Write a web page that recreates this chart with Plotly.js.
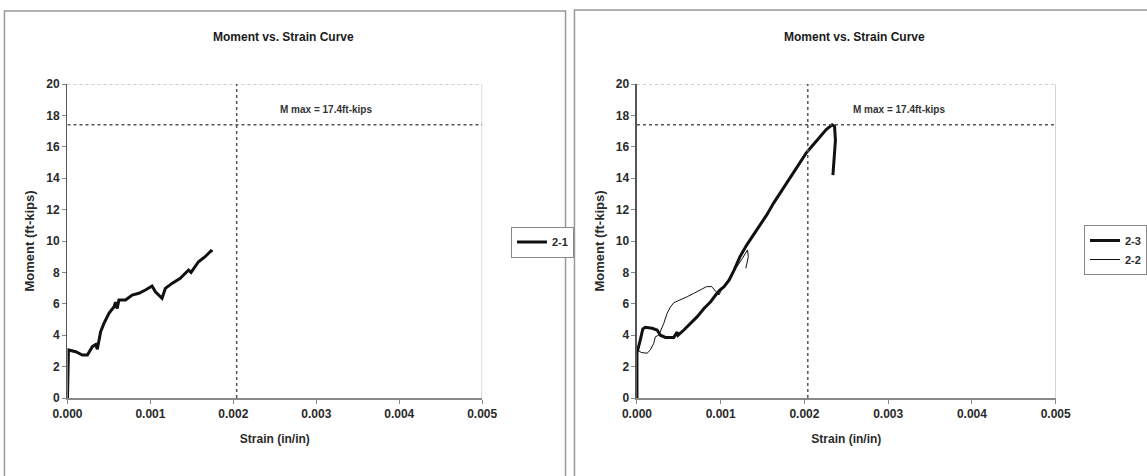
<!DOCTYPE html>
<html>
<head>
<meta charset="utf-8">
<script src="https://cdn.plot.ly/plotly-3.0.1.min.js"></script>
<style>html,body{margin:0;padding:0;background:#fff;}#chart{width:1147px;height:476px;}</style>
</head>
<body>
<div id="chart"></div>
<script>
// ---- Data ----
const chartTitle = "Moment vs. Strain Curve";
const xTitle = "Strain (in/in)";
const yTitle = "Moment (ft-kips)";
const xTickVals = [0, 0.001, 0.002, 0.003, 0.004, 0.005];
const yTickVals = [0, 2, 4, 6, 8, 10, 12, 14, 16, 18, 20];
const mMax = 17.4;
const mMaxStrain = 0.00204;
const mMaxLabel = "M max = 17.4ft-kips";

// Left panel, specimen 2-1
const strain21 = [0, 0.000012, 0.0001, 0.00018, 0.00024, 0.0003, 0.00034, 0.00036, 0.0004, 0.00044, 0.0005, 0.00056, 0.00058, 0.0006, 0.00062, 0.0007, 0.00078, 0.00086, 0.00094, 0.00102, 0.00106, 0.0011, 0.00114, 0.00118, 0.00126, 0.00136, 0.00146, 0.00149, 0.00158, 0.00166, 0.00174, 0.00173];
const moment21 = [0, 3.06, 2.95, 2.74, 2.74, 3.27, 3.4, 3.1, 4.22, 4.75, 5.4, 5.8, 6.1, 5.7, 6.24, 6.24, 6.56, 6.67, 6.88, 7.13, 6.77, 6.56, 6.35, 6.98, 7.3, 7.62, 8.15, 8.0, 8.68, 9.0, 9.43, 9.3];

// Right panel, specimen 2-3 (thick)
const strain23 = [0, 0, 0.00004, 0.00007, 0.0001, 0.00018, 0.00024, 0.00028, 0.00034, 0.00044, 0.00048, 0.00049, 0.00056, 0.00064, 0.00072, 0.0008, 0.00088, 0.00094, 0.00099, 0.00104, 0.0011, 0.00116, 0.00123, 0.00131, 0.00139, 0.00147, 0.00155, 0.00163, 0.00171, 0.00178, 0.00186, 0.00194, 0.00202, 0.0021, 0.00218, 0.00226, 0.00233, 0.00236, 0.00237, 0.00236, 0.00234];
const moment23 = [0, 2.87, 3.7, 4.4, 4.5, 4.44, 4.33, 4.0, 3.86, 3.86, 4.2, 4.0, 4.33, 4.75, 5.18, 5.7, 6.13, 6.56, 6.88, 7.09, 7.5, 8.15, 9.0, 9.74, 10.38, 11.0, 11.66, 12.4, 13.04, 13.67, 14.3, 14.95, 15.6, 16.1, 16.6, 17.1, 17.4, 17.3, 16.4, 15.4, 14.2];

// Right panel, specimen 2-2 (thin)
const strain22 = [0, 0, 0.00001, 0.00005, 0.00012, 0.00016, 0.0002, 0.00022, 0.00026, 0.00032, 0.00036, 0.0004, 0.00044, 0.00052, 0.0006, 0.00068, 0.00076, 0.00083, 0.00089, 0.00094, 0.00098, 0.00101, 0.00106, 0.00112, 0.00118, 0.00126, 0.00132, 0.00133, 0.0013];
const moment22 = [0, 2.8, 3.06, 2.9, 2.85, 3.06, 3.48, 3.9, 4.0, 4.75, 5.4, 5.8, 6.07, 6.24, 6.45, 6.67, 6.88, 7.09, 7.1, 6.77, 6.56, 6.9, 7.3, 7.73, 8.26, 8.9, 9.43, 9.0, 8.26];

// ---- Layout helpers ----
const W = 1147, H = 476;
const px = v => v / W;
const py = v => 1 - v / H;
const FONT = "Liberation Sans, Arial, sans-serif";
const txt = "#2a2a2a";

const traces = [
  {x: strain21, y: moment21, xaxis: "x", yaxis: "y", name: "2-1", mode: "lines",
   line: {color: "#111", width: 3}, legend: "legend"},
  {x: strain23, y: moment23, xaxis: "x2", yaxis: "y2", name: "2-3", mode: "lines",
   line: {color: "#111", width: 3}, legend: "legend2"},
  {x: strain22, y: moment22, xaxis: "x2", yaxis: "y2", name: "2-2", mode: "lines",
   line: {color: "#111", width: 1}, legend: "legend2"}
];

function xax(domain, anchor) {
  return {
    domain: domain, anchor: anchor, range: [0, 0.005], tickvals: xTickVals, tickformat: ".3f",
    showgrid: false, zeroline: false, showline: true, linecolor: "#888", linewidth: 1.5,
    ticks: "outside", ticklen: 4, tickcolor: "#888",
    tickfont: {family: FONT, size: 12, color: txt, weight: "bold"},
    title: {text: xTitle, font: {family: FONT, size: 12, color: txt, weight: "bold"}, standoff: 14},
    automargin: false, fixedrange: true
  };
}
function yax(anchor) {
  return {
    domain: [1 - 398 / H, 1 - 84 / H], anchor: anchor, range: [0, 20], tickvals: yTickVals,
    showgrid: false, zeroline: false, showline: true, linecolor: "#555", linewidth: 1.5,
    ticks: "outside", ticklen: 4, tickcolor: "#888",
    tickfont: {family: FONT, size: 12, color: txt, weight: "bold"},
    title: {text: yTitle, font: {family: FONT, size: 13, color: txt, weight: "bold"}, standoff: 8},
    automargin: false, fixedrange: true
  };
}

function panelShapes(xr, yr) {
  return [
    {type: "line", xref: xr, yref: yr, x0: 0, x1: 0.005, y0: 20, y1: 20, line: {color: "#999", width: 1.2, dash: "dot"}},
    {type: "line", xref: xr, yref: yr, x0: 0.005, x1: 0.005, y0: 0, y1: 20, line: {color: "#bbb", width: 1.2}},
    {type: "line", xref: xr, yref: yr, x0: 0, x1: 0.005, y0: mMax, y1: mMax, line: {color: "#555", width: 1.5, dash: "dot"}},
    {type: "line", xref: xr, yref: yr, x0: mMaxStrain, x1: mMaxStrain, y0: 0, y1: 20, line: {color: "#555", width: 1.5, dash: "dot"}}
  ];
}

const shapes = [
  {type: "rect", xref: "paper", yref: "paper", x0: px(4.5), x1: px(570), y0: py(11), y1: -0.02, line: {color: "#999", width: 1.5}},
  {type: "rect", xref: "paper", yref: "paper", x0: px(579), x1: 1.02, y0: py(10), y1: -0.02, line: {color: "#999", width: 1.5}}
].concat(panelShapes("x", "y"), panelShapes("x2", "y2"));

const annotations = [
  {text: chartTitle, xref: "paper", yref: "paper", x: px(286), y: py(37), xanchor: "center", yanchor: "middle", showarrow: false,
   font: {family: FONT, size: 12, color: "#1a1a1a", weight: "bold"}},
  {text: chartTitle, xref: "paper", yref: "paper", x: px(861), y: py(37), xanchor: "center", yanchor: "middle", showarrow: false,
   font: {family: FONT, size: 12, color: "#1a1a1a", weight: "bold"}},
  {text: mMaxLabel, xref: "x", yref: "y", x: 0.00312, y: 18.4, xanchor: "center", yanchor: "middle", showarrow: false,
   font: {family: FONT, size: 10, color: "#333", weight: "bold"}},
  {text: mMaxLabel, xref: "x2", yref: "y2", x: 0.003135, y: 18.4, xanchor: "center", yanchor: "middle", showarrow: false,
   font: {family: FONT, size: 10, color: "#333", weight: "bold"}}
];

const legendBase = {
  xanchor: "left", yanchor: "middle", bgcolor: "#fff", bordercolor: "#888", borderwidth: 1,
  font: {family: FONT, size: 11, color: txt, weight: "bold"}, itemwidth: 30, tracegroupgap: 0
};

const layout = {
  width: W, height: H,
  margin: {l: 0, r: 0, t: 0, b: 0},
  paper_bgcolor: "#fff", plot_bgcolor: "#fff",
  showlegend: true,
  xaxis: xax([px(68), px(486)], "y"),
  yaxis: yax("x"),
  xaxis2: xax([px(642), px(1064)], "y2"),
  yaxis2: yax("x2"),
  legend: Object.assign({}, legendBase, {x: px(515), y: py(242)}),
  legend2: Object.assign({}, legendBase, {x: px(1093), y: py(250)}),
  shapes: shapes,
  annotations: annotations
};

Plotly.newPlot("chart", traces, layout, {staticPlot: true, displayModeBar: false});
</script>
</body>
</html>
